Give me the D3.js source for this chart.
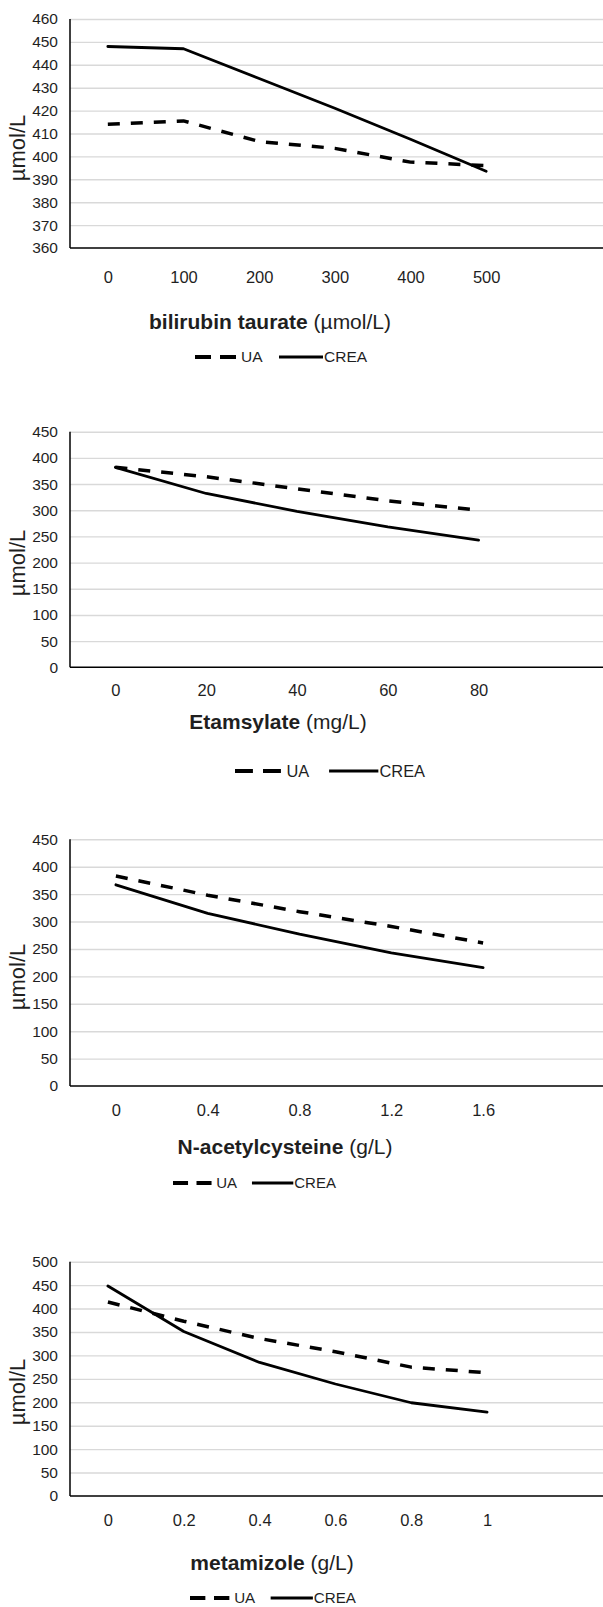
<!DOCTYPE html>
<html>
<head>
<meta charset="utf-8">
<script src="https://cdn.jsdelivr.net/npm/d3@7"></script>
<style>
  html, body { margin: 0; padding: 0; background: #fff; }
  svg { display: block; font-family: "Liberation Sans", Arial, sans-serif; }
</style>
</head>
<body>
<svg id="chart" width="603" height="1607"></svg>
<script>
// --- data ---
const bilirubinDose = ["0", "100", "200", "300", "400", "500"];
const bilirubinUA   = [414, 415.5, 406.5, 403.5, 397.5, 396];
const bilirubinCREA = [448, 447, 434, 421, 407.5, 393.5];
const bilirubinYTicks = [360, 370, 380, 390, 400, 410, 420, 430, 440, 450, 460];

const etamsylateDose = ["0", "20", "40", "60", "80"];
const etamsylateUA   = [382, 364, 341, 318, 300];
const etamsylateCREA = [382, 332, 298, 268, 243];
const etamsylateYTicks = [0, 50, 100, 150, 200, 250, 300, 350, 400, 450];

const nacDose = ["0", "0.4", "0.8", "1.2", "1.6"];
const nacUA   = [383, 348, 318, 291, 261];
const nacCREA = [367, 315, 277, 243, 216];
const nacYTicks = [0, 50, 100, 150, 200, 250, 300, 350, 400, 450];

const metamizoleDose = ["0", "0.2", "0.4", "0.6", "0.8", "1"];
const metamizoleUA   = [414, 373, 336, 308, 275, 263];
const metamizoleCREA = [448, 351, 285, 239, 199, 179];
const metamizoleYTicks = [0, 50, 100, 150, 200, 250, 300, 350, 400, 450, 500];

const seriesNames = ["UA", "CREA"];

// --- layout per panel ---
const panels = [
  { dose: bilirubinDose, ua: bilirubinUA, crea: bilirubinCREA, yTicks: bilirubinYTicks,
    title: ["bilirubin taurate", " (µmol/L)"],
    top: 19, bottom: 248, right: 524, tickY: 277, titleX: 270, titleY: 322,
    legX: 195, legY: 357, legK: 1, yLabY: 148 },
  { dose: etamsylateDose, ua: etamsylateUA, crea: etamsylateCREA, yTicks: etamsylateYTicks,
    title: ["Etamsylate", " (mg/L)"],
    top: 431.7, bottom: 667.3, right: 524, tickY: 690, titleX: 278, titleY: 722,
    legX: 235, legY: 771, legK: 1.12, yLabY: 563 },
  { dose: nacDose, ua: nacUA, crea: nacCREA, yTicks: nacYTicks,
    title: ["N-acetylcysteine", " (g/L)"],
    top: 839.3, bottom: 1086, right: 529, tickY: 1110, titleX: 285, titleY: 1147,
    legX: 173, legY: 1183, legK: 0.94, yLabY: 977 },
  { dose: metamizoleDose, ua: metamizoleUA, crea: metamizoleCREA, yTicks: metamizoleYTicks,
    title: ["metamizole", " (g/L)"],
    top: 1261.7, bottom: 1496, right: 525, tickY: 1520, titleX: 272, titleY: 1563,
    legX: 190, legY: 1598, legK: 0.96, yLabY: 1392 }
];

const svg = d3.select("#chart");
const W = 603;
const left = 70;
const textColor = "#1f1f1f";
const dashArr = "12,11";

panels.forEach(p => {
  const g = svg.append("g");

  const x = d3.scalePoint().domain(p.dose).range([left, p.right]).padding(0.5);
  const y = d3.scaleLinear()
    .domain([p.yTicks[0], p.yTicks[p.yTicks.length - 1]])
    .range([p.bottom, p.top]);

  // gridlines + y tick labels
  const yAx = g.append("g")
    .attr("transform", `translate(${left},0)`)
    .call(d3.axisLeft(y).tickValues(p.yTicks).tickSize(-(W - left)).tickPadding(12));
  yAx.select(".domain").remove();
  yAx.selectAll(".tick line")
    .attr("stroke", "#d9d9d9")
    .attr("stroke-width", 1.4)
    .attr("opacity", (d, i) => i === 0 ? 0 : 1);
  yAx.selectAll(".tick text")
    .attr("fill", textColor)
    .attr("font-size", 15.5)
    .attr("font-family", "Liberation Sans, Arial, sans-serif");

  // x tick labels
  const xAx = g.append("g")
    .attr("transform", `translate(0,${p.bottom})`)
    .call(d3.axisBottom(x).tickSize(0));
  xAx.select(".domain").remove();
  xAx.selectAll(".tick text")
    .attr("y", p.tickY - p.bottom)
    .attr("dy", "0.35em")
    .attr("fill", textColor)
    .attr("font-size", 16.5)
    .attr("font-family", "Liberation Sans, Arial, sans-serif");

  // axis lines
  g.append("line")
    .attr("x1", left).attr("x2", left).attr("y1", p.top).attr("y2", p.bottom)
    .attr("stroke", "#000").attr("stroke-width", 1.5);
  g.append("line")
    .attr("x1", left).attr("x2", W).attr("y1", p.bottom).attr("y2", p.bottom)
    .attr("stroke", "#000").attr("stroke-width", 1.6);

  // series lines
  const line = d3.line().x((d, i) => x(p.dose[i])).y(d => y(d));
  g.append("path")
    .datum(p.ua)
    .attr("d", line)
    .attr("fill", "none")
    .attr("stroke", "#000")
    .attr("stroke-width", 3.5)
    .attr("stroke-dasharray", dashArr)
    .attr("stroke-linejoin", "round");
  g.append("path")
    .datum(p.crea)
    .attr("d", line)
    .attr("fill", "none")
    .attr("stroke", "#000")
    .attr("stroke-width", 2.8)
    .attr("stroke-linejoin", "round")
    .attr("stroke-linecap", "round");

  // y axis label
  g.append("text")
    .attr("transform", `translate(17,${p.yLabY}) rotate(-90)`)
    .attr("text-anchor", "middle")
    .attr("dy", "0.35em")
    .attr("fill", textColor)
    .attr("font-size", 22)
    .text("µmol/L");

  // x axis title: bold drug name + regular unit
  const t = g.append("text")
    .attr("x", p.titleX).attr("y", p.titleY)
    .attr("dy", "0.35em")
    .attr("text-anchor", "middle")
    .attr("fill", textColor)
    .attr("font-size", 21);
  t.append("tspan").attr("font-weight", "bold").text(p.title[0]);
  t.append("tspan").text(p.title[1]);

  // legend
  const k = p.legK;
  const leg = g.append("g").attr("transform", `translate(${p.legX},${p.legY})`);
  leg.append("line")
    .attr("x1", 0).attr("x2", 41 * k).attr("y1", 0).attr("y2", 0)
    .attr("stroke", "#000").attr("stroke-width", 3.8)
    .attr("stroke-dasharray", `${16 * k},${9 * k}`);
  leg.append("text")
    .attr("x", 46 * k).attr("dy", "0.35em")
    .attr("fill", textColor).attr("font-size", 15.5 * Math.sqrt(k))
    .text(seriesNames[0]);
  leg.append("line")
    .attr("x1", 84 * k).attr("x2", 128 * k).attr("y1", 0).attr("y2", 0)
    .attr("stroke", "#000").attr("stroke-width", 2.8);
  leg.append("text")
    .attr("x", 129 * k).attr("dy", "0.35em")
    .attr("fill", textColor).attr("font-size", 15.5 * Math.sqrt(k))
    .text(seriesNames[1]);
});
</script>
</body>
</html>
